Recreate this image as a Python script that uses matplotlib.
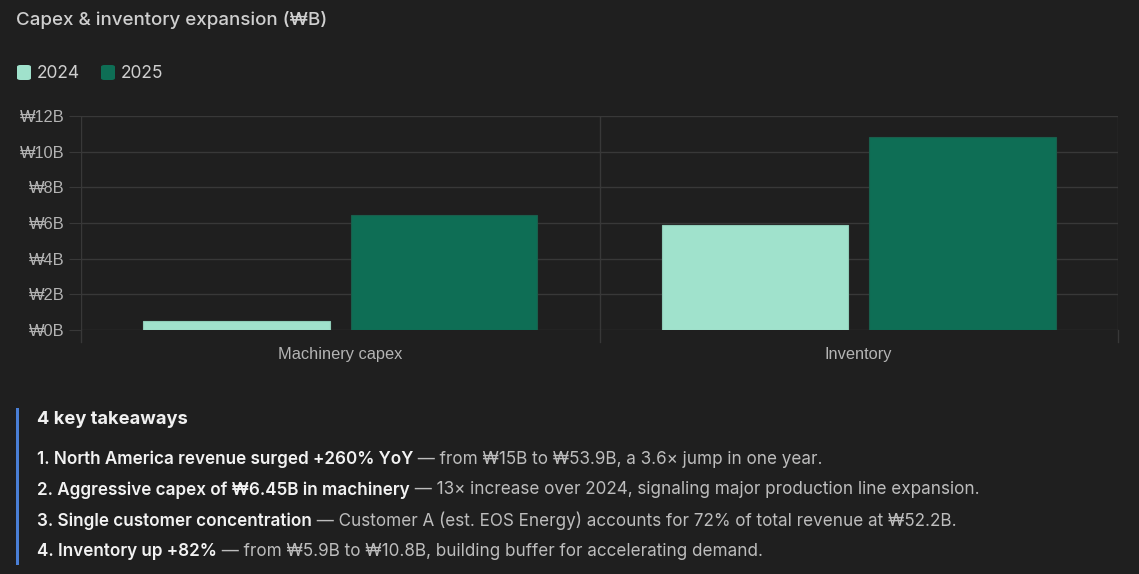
import matplotlib
matplotlib.use("Agg")
import matplotlib.pyplot as plt
from matplotlib.patches import FancyBboxPatch, Rectangle
import numpy as np

categories = ["Machinery capex", "Inventory"]
series_names = ["2024", "2025"]
values_2024 = [0.5, 5.9]
values_2025 = [6.45, 10.8]
y_ticks = [0, 2, 4, 6, 8, 10, 12]
y_tick_labels = ["₩0B", "₩2B", "₩4B", "₩6B", "₩8B", "₩10B", "₩12B"]
title = "Capex & inventory expansion (₩B)"
takeaway_heading = "4 key takeaways"
takeaways_bold = [
    "1. North America revenue surged +260% YoY",
    "2. Aggressive capex of ₩6.45B in machinery",
    "3. Single customer concentration",
    "4. Inventory up +82%",
]
takeaways_rest = [
    " — from ₩15B to ₩53.9B, a 3.6× jump in one year.",
    " — 13× increase over 2024, signaling major production line expansion.",
    " — Customer A (est. EOS Energy) accounts for 72% of total revenue at ₩52.2B.",
    " — from ₩5.9B to ₩10.8B, building buffer for accelerating demand.",
]

BG = "#1f1f1f"
C24 = "#a0e2cc"
C25 = "#0e6e55"
GRID = "#383838"
TICK = "#b4b4b4"

W, H = 1139, 574
fig = plt.figure(figsize=(W / 100, H / 100), dpi=100, facecolor=BG)

def fx(px):
    return px / W

def fy(py):
    return 1 - py / H

FAM = ["Inter", "DejaVu Sans"]
TFAM = ["Liberation Sans", "DejaVu Sans"]

ax = fig.add_axes([fx(81), fy(330), fx(1118) - fx(81), fy(116) - fy(330)])
ax.set_facecolor(BG)
x = np.arange(len(categories))
cat_pct, bar_pct = 0.8, 0.9
slot = cat_pct / 2
bw = slot * bar_pct
ax.bar(x - slot / 2, values_2024, width=bw, color=C24, edgecolor="#8fcdb8", linewidth=0.8, zorder=3)
ax.bar(x + slot / 2, values_2025, width=bw, color=C25, edgecolor="#1a5e4c", linewidth=0.8, zorder=3)
ax.set_xlim(-0.5, len(categories) - 0.5)
ax.set_ylim(0, 12)
ax.set_yticks(y_ticks)
ax.set_yticklabels(y_tick_labels, family=TFAM, fontsize=11.8, color=TICK)
ax.set_xticks(x)
ax.set_xticklabels(categories, family=TFAM, fontsize=11.8, color=TICK)
ax.grid(axis="y", color=GRID, linewidth=1, zorder=0)
for b in [-0.5, 0.5, 1.5]:
    ax.axvline(b, color=GRID, linewidth=1, zorder=0)
for b in [-0.5, 0.5, 1.5]:
    ax.plot([b, b], [0, -0.7], color=GRID, linewidth=1, clip_on=False, zorder=0)
ax.tick_params(axis="y", length=9, color=GRID, pad=3)
ax.tick_params(axis="x", length=0, pad=12)
for s in ax.spines.values():
    s.set_visible(False)

# Title
fig.text(fx(16), fy(20), title, family=FAM, fontsize=13.5, color="#cfcfcf",
         fontweight="medium", va="center", ha="left")

# Legend
for i, (name, col) in enumerate(zip(series_names, [C24, C25])):
    x0 = 16 + i * 84
    fig.patches.append(FancyBboxPatch((fx(x0 + 1), fy(80)), fx(14), (fy(65) - fy(80)),
                                      boxstyle="round,pad=0,rounding_size=0.003",
                                      transform=fig.transFigure, facecolor=col,
                                      edgecolor="none"))
    fig.text(fx(x0 + 21), fy(73), name, family=FAM, fontsize=12.5, color="#cfcfcf",
             va="center", ha="left")

# Takeaways panel
fig.patches.append(Rectangle((fx(15.5), fy(565)), fx(3), fy(408) - fy(565),
                             transform=fig.transFigure, facecolor="#4a7fd6",
                             edgecolor="none"))
fig.text(fx(37), fy(420), takeaway_heading, family=FAM, fontsize=13.2, color="#f0f0f0",
         fontweight="bold", va="center", ha="left")

renderer = fig.canvas.get_renderer()
ys = [459, 490, 521, 551]
for yy, b, r in zip(ys, takeaways_bold, takeaways_rest):
    t = fig.text(fx(37), fy(yy), b, family=FAM, fontsize=12.3, color="#f2f2f2",
                 fontweight="semibold", va="center", ha="left")
    bb = t.get_window_extent(renderer=renderer)
    fig.text(bb.x1 / W, fy(yy), r, family=FAM, fontsize=12.3, color="#bdbdbd",
             va="center", ha="left")

fig.savefig("out.png", dpi=100, facecolor=BG)
